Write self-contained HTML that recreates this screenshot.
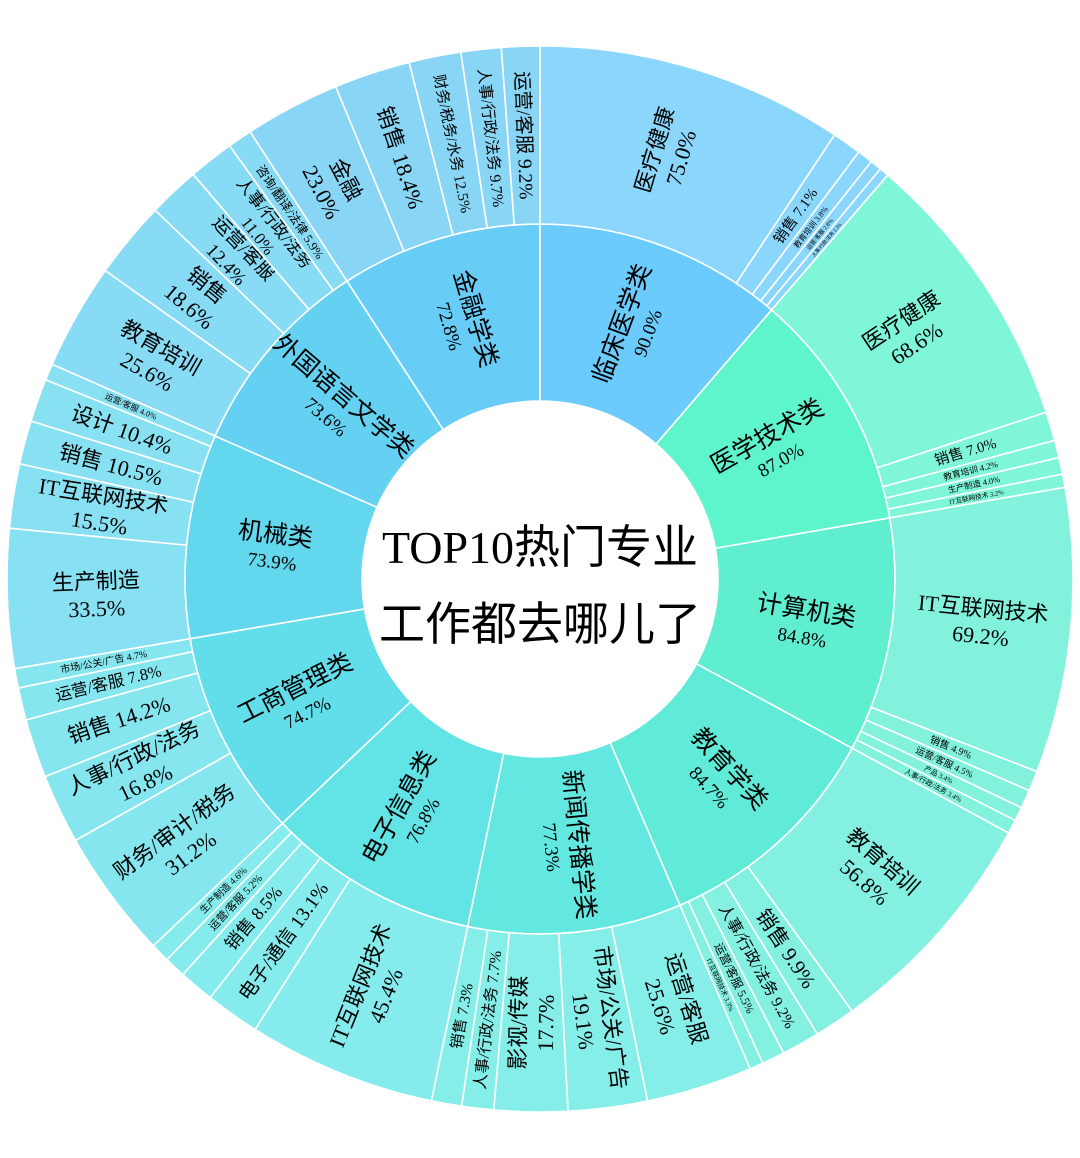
<!DOCTYPE html>
<html><head><meta charset="utf-8">
<style>
html,body{margin:0;padding:0;background:#fff;}
svg{display:block;}
text{font-family:"Liberation Serif","Noto Sans CJK SC",serif;fill:#000;}
.t{font-family:"Liberation Serif","Noto Sans CJK SC",serif;}
</style></head>
<body>
<svg id="s" width="1080" height="1158" viewBox="0 0 1080 1158" xmlns="http://www.w3.org/2000/svg">
<g id="g"></g>
<circle cx="540" cy="579" r="178" fill="#fff"/>
<text x="540" y="563" text-anchor="middle" font-size="46" class="t">TOP10热门专业</text>
<text x="540" y="640" text-anchor="middle" font-size="46" style="font-family:'Noto Sans CJK SC',sans-serif">工作都去哪儿了</text>
</svg>
<script>
var data=[
["临床医学类",90.0,"#6ccbfd","#8ad6fc",[["医疗健康",75.0],["销售",7.1],["教育培训",3.8],["运营/客服",2.8],["人事/行政/法务",2.3]]],
["医学技术类",87.0,"#5ff5cc","#80f6d8",[["医疗健康",68.6],["销售",7.0],["教育培训",4.2],["生产制造",4.0],["IT互联网技术",3.2]]],
["计算机类",84.8,"#5feed0","#82f2dc",[["IT互联网技术",69.2],["销售",4.9],["运营/客服",4.5],["产品",3.4],["人事/行政/法务",3.4]]],
["教育学类",84.7,"#60ebd8","#84f0e2",[["教育培训",56.8],["销售",9.9],["人事/行政/法务",9.2],["运营/客服",5.5],["IT互联网技术",3.3]]],
["新闻传播学类",77.3,"#62e8e0","#86eee8",[["运营/客服",25.6],["市场/公关/广告",19.1],["影视/传媒",17.7],["人事/行政/法务",7.7],["销售",7.3]]],
["电子信息类",76.8,"#62e3e6","#86ebec",[["IT互联网技术",45.4],["电子/通信",13.1],["销售",8.5],["运营/客服",5.2],["生产制造",4.6]]],
["工商管理类",74.7,"#62ddea","#86e6ef",[["财务/审计/税务",31.2,1],["人事/行政/法务",16.8,1],["销售",14.2],["运营/客服",7.8],["市场/公关/广告",4.7]]],
["机械类",73.9,"#62d7ee","#88e1f2",[["生产制造",33.5],["IT互联网技术",15.5,1],["销售",10.5],["设计",10.4],["运营/客服",4.0]]],
["外国语言文学类",73.6,"#64d1f2","#88dbf4",[["教育培训",25.6],["销售",18.6,1],["运营/客服",12.4,1],["人事/行政/法务",11.0,1],["咨询/翻译/法律",5.9]]],
["金融学类",72.8,"#67cdf7","#89d5f5",[["金融",23.0],["销售",18.4],["财务/税务/水务",12.5],["人事/行政/法务",9.7],["运营/客服",9.2]]]
];
var cx=540,cy=579,R0=178,R1=355,R2=533,NS="http://www.w3.org/2000/svg";
var g=document.getElementById("g");
function P(r,a){a=a*Math.PI/180;return [cx+r*Math.sin(a),cy-r*Math.cos(a)];}
function sector(ri,ro,a0,a1,fill){
 var p1=P(ro,a0),p2=P(ro,a1),p3=P(ri,a1),p4=P(ri,a0),l=(a1-a0)>180?1:0;
 var d="M"+p1+"A"+ro+","+ro+" 0 "+l+" 1 "+p2+"L"+p3+"A"+ri+","+ri+" 0 "+l+" 0 "+p4+"Z";
 var e=document.createElementNS(NS,"path");e.setAttribute("d",d);e.setAttribute("fill",fill);
 e.setAttribute("stroke","#fff");e.setAttribute("stroke-width","1.6");g.appendChild(e);}
function tw(s,fs){var w=0;for(var i=0;i<s.length;i++){w+=s.charCodeAt(i)>255?fs:0.52*fs;}return w;}
function label(r,m,lines,sizes){
 var p=P(r,m),rot=m<180?m-90:m-270;
 var t=document.createElementNS(NS,"text");
 t.setAttribute("transform","translate("+p[0].toFixed(1)+","+p[1].toFixed(1)+") rotate("+rot.toFixed(2)+")");
 t.setAttribute("text-anchor","middle");
 var n=lines.length,tot=0;for(var i=0;i<n;i++)tot+=sizes[i]*1.25;
 var y=-tot/2;
 for(var i=0;i<n;i++){var s=document.createElementNS(NS,"tspan");s.setAttribute("x","0");
  y+=sizes[i]*1.25;s.setAttribute("y",(y-sizes[i]*0.3).toFixed(1));s.setAttribute("font-size",sizes[i].toFixed(1));
  s.textContent=lines[i];t.appendChild(s);}
 g.appendChild(t);}
var total=0;data.forEach(function(c){total+=c[1];});
var a=0;
data.forEach(function(c){
 var w=c[1]/total*360,a0=a,a1=a+w;
 sector(R0,R1,a0,a1,c[2]);
 var cs=0;c[4].forEach(function(k){cs+=k[1];});
 var b=a0;
 c[4].forEach(function(k){
  var kw=k[1]/cs*w,b0=b,b1=b+kw;b=b1;
  sector(R1,R2,b0,b1,c[3]);
  var arc=kw*Math.PI/180*444,pct=k[1].toFixed(1)+"%",m=(b0+b1)/2;
  var one=k[0]+"  "+pct,fs=Math.min(22,arc*0.6),maxw=160;
  if(k[2] || (arc>=60 && (tw(one,Math.min(22,arc/2.5))>maxw*0.8 || arc>80))){
   var f2=Math.min(22,arc/2.3);var mw=Math.max(tw(k[0],f2),tw(pct,f2));
   if(mw>maxw)f2*=maxw/mw;
   label(444,m,[k[0],pct],[f2,f2]);
  }else{
   var ww=tw(one,fs);if(ww>maxw)fs*=maxw/ww;
   label(444,m,[one],[fs]);
  }
 });
 label(268,(a0+a1)/2,[c[0],c[1].toFixed(1)+"%"],[25,19]);
 a=a1;
});
</script>
</body></html>
